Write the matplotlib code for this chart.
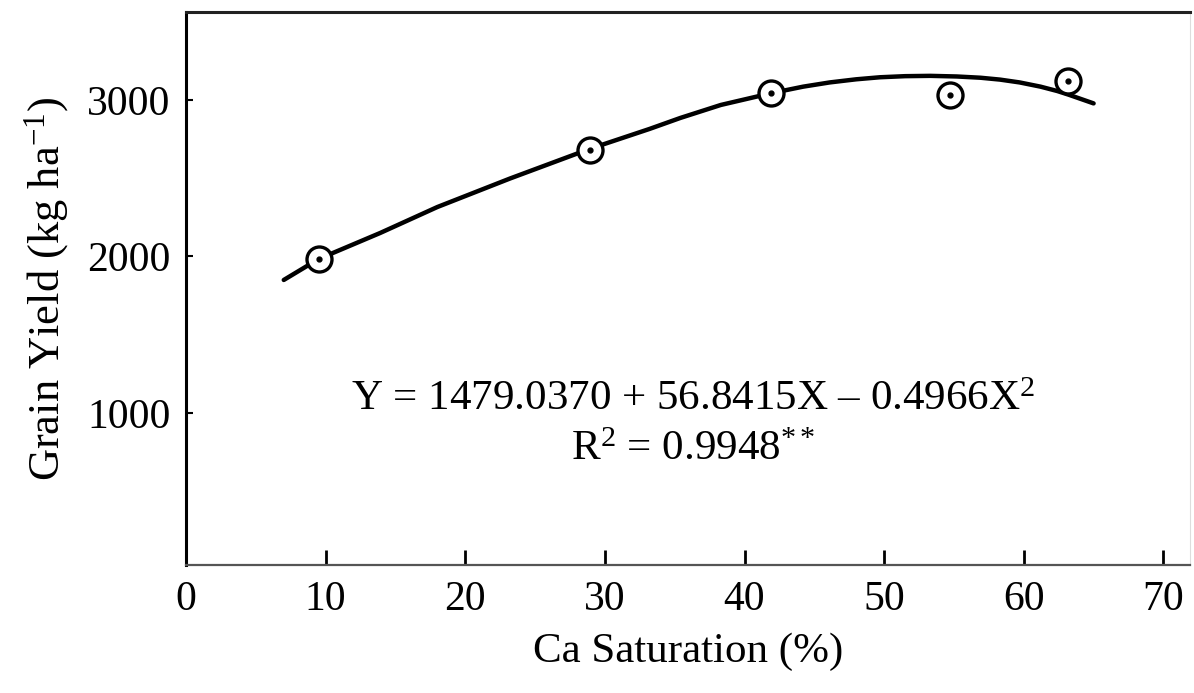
import numpy as np
import matplotlib
matplotlib.use("Agg")
from matplotlib import pyplot as plt

plt.rcParams['font.family'] = ['Liberation Serif', 'DejaVu Serif']
plt.rcParams['mathtext.fontset'] = 'custom'
plt.rcParams['mathtext.rm'] = 'Liberation Serif'
plt.rcParams['mathtext.it'] = 'Liberation Serif:italic'

ca_sat = [9.5, 28.9, 41.9, 54.7, 63.2]
yield_obs = [1984, 2683, 3043, 3032, 3121]

# fitted curve as drawn
curve_x = [7.0, 9.5, 13.9, 18.0, 23.2, 28.9, 33.2, 35.4, 38.3, 42.0, 44.2, 46.1, 48.0,
           49.7, 51.5, 53.3, 55.2, 56.9, 58.3, 59.7, 61.2, 62.4, 63.2, 65.0]
curve_y = [1850, 1984, 2150, 2316, 2498, 2687, 2815, 2885, 2968, 3045, 3085, 3112, 3132,
           3145, 3152, 3154, 3150, 3142, 3130, 3112, 3085, 3057, 3034, 2978]

x_ticks = [0, 10, 20, 30, 40, 50, 60, 70]
y_ticks = [1000, 2000, 3000]

fig = plt.figure(figsize=(11.94, 6.93), dpi=100)
ax = fig.add_axes([0.1558, 0.1847, 0.8408, 0.798])

ax.plot(curve_x, curve_y, color='black', lw=3.2, solid_capstyle='round',
        solid_joinstyle='round', zorder=2)
ax.plot(ca_sat, yield_obs, 'o', ms=18, mfc='white', mec='black', mew=2.4, zorder=3)
ax.plot(ca_sat, yield_obs, 'o', ms=3.5, color='black', zorder=4)

ax.set_xlim(0, 71.9)
ax.set_ylim(29, 3562)
ax.set_xticks(x_ticks)
ax.set_yticks(y_ticks)
ax.tick_params(axis='x', direction='in', length=11, width=2, pad=11, labelsize=30)
ax.tick_params(axis='y', direction='in', length=5, width=1.5, pad=11, labelsize=30)

ax.spines['left'].set_linewidth(2.2)
ax.spines['top'].set_linewidth(2.2)
ax.spines['top'].set_color('#222222')
ax.spines['bottom'].set_linewidth(1.6)
ax.spines['bottom'].set_color('#555555')
ax.spines['right'].set_linewidth(0.8)
ax.spines['right'].set_color('#dddddd')

ax.set_xlabel('Ca Saturation (%)', fontsize=31, labelpad=10)
ax.set_ylabel('Grain Yield (kg ha$^{-1}$)', fontsize=32, labelpad=12)

ax.text(36.3, 1083, 'Y = 1479.0370 + 56.8415X \u2013 0.4966X$^2$', fontsize=31,
        ha='center', va='center')
ax.text(36.3, 763, 'R$^2$ = 0.9948$^{**}$', fontsize=31, ha='center', va='center')

fig.savefig('out.png', dpi=100)
